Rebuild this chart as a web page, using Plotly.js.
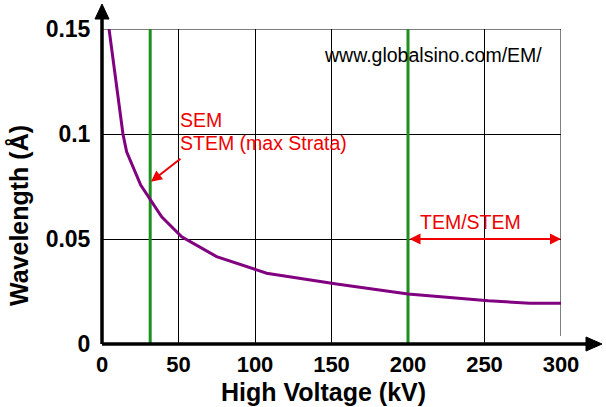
<!DOCTYPE html>
<html>
<head>
<meta charset="utf-8">
<script src="https://cdn.plot.ly/plotly-3.0.1.min.js"></script>
<style>html,body{margin:0;padding:0;background:#fff;}#chart{width:606px;height:407px;}</style>
</head>
<body>
<div id="chart"></div>
<script>
// Data
var voltageKV = [4.6, 13.7, 16.1, 25.3, 39, 52.1, 74.9, 107.6, 153.3, 200, 252.5, 279.7, 300];
var wavelengthA = [0.15, 0.1, 0.0915, 0.0757, 0.0606, 0.0511, 0.0416, 0.0337, 0.0286, 0.0238, 0.0206, 0.0194, 0.0194];
var markerKV = [31.5, 200];
var xTickVals = [0, 50, 100, 150, 200, 250, 300];
var xTickText = ['0', '50', '100', '150', '200', '250', '300'];
var yTickVals = [0, 0.05, 0.1, 0.15];
var yTickText = ['0', '0.05', '0.1', '0.15'];
var temRange = [200, 300];
var temLevel = 0.05;
var semPoint = [32, 0.0773];

var FONT = 'Liberation Sans, Arial, sans-serif';
var RED = '#ee0000';

var W = 606, H = 407, L = 102, R = 45, T = 29, B = 63;
var PW = W - L - R, PH = H - T - B;
function px(x) { return (x - L) / PW; }
function py(y) { return (H - B - y) / PH; }

var shapes = [];
// outer grid border (top and right)
shapes.push({type: 'line', xref: 'x', yref: 'y', x0: 0, x1: 300, y0: 0.15, y1: 0.15, line: {color: '#000', width: 1}, layer: 'between'});
shapes.push({type: 'line', xref: 'x', yref: 'paper', x0: 300, x1: 300, y0: py(336), y1: 1, line: {color: '#000', width: 1}, layer: 'between'});
// green marker lines
markerKV.forEach(function (v) {
  shapes.push({type: 'line', xref: 'x', yref: 'y', x0: v, x1: v, y0: 0, y1: 0.15,
    line: {color: '#1f8f1f', width: 3}, layer: 'between'});
});
// axes with arrows
shapes.push({type: 'line', xref: 'paper', yref: 'paper', x0: 0, x1: px(588), y0: 0, y1: 0, line: {color: '#000', width: 3.5}});
shapes.push({type: 'line', xref: 'paper', yref: 'paper', x0: 0, x1: 0, y0: 0, y1: py(17), line: {color: '#000', width: 3.5}});
shapes.push({type: 'path', xref: 'paper', yref: 'paper',
  path: 'M' + px(602) + ',' + py(344) + ' L' + px(586) + ',' + py(337) + ' L' + px(586) + ',' + py(351) + ' Z',
  fillcolor: '#000', line: {color: '#000', width: 1}});
shapes.push({type: 'path', xref: 'paper', yref: 'paper',
  path: 'M' + px(102) + ',' + py(4) + ' L' + px(95) + ',' + py(19) + ' L' + px(109) + ',' + py(19) + ' Z',
  fillcolor: '#000', line: {color: '#000', width: 1}});

var annotations = [
  {xref: 'paper', yref: 'paper', x: px(322), y: py(55), xanchor: 'left', yanchor: 'middle',
   text: 'www.globalsino.com/EM/', showarrow: false, font: {family: FONT, size: 19.5, color: '#000'}},
  {xref: 'paper', yref: 'paper', x: px(178), y: py(119.5), xanchor: 'left', yanchor: 'middle',
   text: 'SEM', showarrow: false, font: {family: FONT, size: 19.5, color: RED}},
  {xref: 'paper', yref: 'paper', x: px(178), y: py(143), xanchor: 'left', yanchor: 'middle',
   text: 'STEM (max Strata)', showarrow: false, font: {family: FONT, size: 19.5, color: RED}},
  {xref: 'paper', yref: 'paper', x: px(418), y: py(222), xanchor: 'left', yanchor: 'middle',
   text: 'TEM/STEM', showarrow: false, font: {family: FONT, size: 19.5, color: RED}},
  // SEM arrow
  {xref: 'x', yref: 'y', x: semPoint[0], y: semPoint[1], ax: 31, ay: -24, text: '',
   showarrow: true, arrowhead: 2, arrowsize: 1.1, arrowwidth: 2, arrowcolor: RED, standoff: 0},
  // TEM/STEM double arrow
  {xref: 'x', yref: 'y', axref: 'x', ayref: 'y', x: temRange[1], y: temLevel, ax: temRange[0], ay: temLevel,
   text: '', showarrow: true, arrowhead: 2, startarrowhead: 2, arrowside: 'end+start',
   arrowsize: 1.1, startarrowsize: 1.1, arrowwidth: 2, arrowcolor: RED, standoff: 0, startstandoff: 0},
  // axis titles
  {xref: 'paper', yref: 'paper', x: px(323), y: py(392), xanchor: 'center', yanchor: 'middle',
   text: 'High Voltage (kV)', showarrow: false, font: {family: FONT, size: 25, color: '#000', weight: 'bold'}},
  {xref: 'paper', yref: 'paper', x: px(19), y: py(216), xanchor: 'center', yanchor: 'middle', textangle: -90,
   text: 'Wavelength (Å)', showarrow: false, font: {family: FONT, size: 25, color: '#000', weight: 'bold'}}
];

var trace = {
  x: voltageKV, y: wavelengthA, type: 'scatter', mode: 'lines',
  line: {color: '#800080', width: 3}, hoverinfo: 'skip'
};

var layout = {
  width: W, height: H,
  margin: {l: L, r: R, t: T, b: B, pad: 0},
  paper_bgcolor: '#fff', plot_bgcolor: '#fff',
  showlegend: false,
  xaxis: {range: [0, 300], tickmode: 'array', tickvals: xTickVals, ticktext: xTickText,
    showgrid: true, gridcolor: '#000', gridwidth: 1, zeroline: false, showline: false,
    ticks: '', ticklabelstandoff: 5,
    tickfont: {family: FONT, size: 22, color: '#000', weight: 'bold'}, fixedrange: true},
  yaxis: {range: [0, 0.15], tickmode: 'array', tickvals: yTickVals, ticktext: yTickText,
    showgrid: true, gridcolor: '#000', gridwidth: 1, zeroline: false, showline: false,
    ticks: 'outside', ticklen: 6, tickcolor: 'rgba(0,0,0,0)',
    tickfont: {family: FONT, size: 23, color: '#000', weight: 'bold'}, fixedrange: true},
  shapes: shapes,
  annotations: annotations
};

Plotly.newPlot('chart', [trace], layout, {displayModeBar: false, staticPlot: true});
</script>
</body>
</html>
